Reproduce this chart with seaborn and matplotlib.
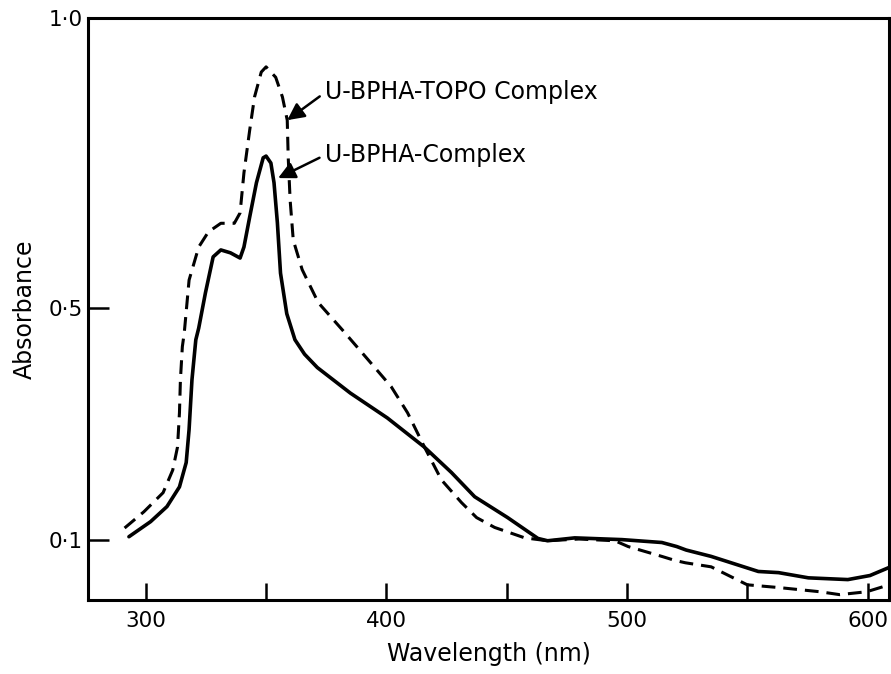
import matplotlib
matplotlib.use("Agg")
import matplotlib.pyplot as plt
import seaborn as sns
import pandas as pd

# ---- data ----
wl_complex = [293, 302, 308.8, 314, 316.8, 318, 319.2, 320.8, 322, 324.8, 328, 331.2,
              335.2, 339.2, 340.8, 343.2, 346, 348.8, 350, 352, 353.3, 354.7, 356,
              358.6, 362, 366, 371.3, 385, 400.4, 415.7, 427, 436.7, 450.4, 463, 467,
              478.3, 497.9, 514.5, 520.7, 524.6, 535, 554.6, 563, 575.4, 591.8, 601, 609]
abs_complex = [0.105, 0.131, 0.157, 0.191, 0.233, 0.29, 0.376, 0.445, 0.465, 0.526, 0.588, 0.600,
               0.595, 0.586, 0.605, 0.657, 0.716, 0.759, 0.762, 0.75, 0.716, 0.647, 0.56,
               0.49, 0.445, 0.42, 0.397, 0.353, 0.31, 0.26, 0.216, 0.174, 0.138, 0.102, 0.098,
               0.103, 0.1, 0.095, 0.088, 0.082, 0.071, 0.045, 0.043, 0.034, 0.031, 0.038, 0.052]

wl_topo = [291.2, 299.2, 307.2, 311.2, 313.2, 314, 314.4, 315.2, 316, 318, 322, 326, 331.2,
           336.8, 339.2, 340.8, 343.2, 345.2, 348, 350, 354, 356.8, 358.8, 359.2, 360,
           361.3, 365, 371.7, 381.7, 392.5, 402, 408.8, 415.8, 422.9, 431.2, 437.5, 445,
           457.5, 467, 480, 495, 500.5, 514.5, 520, 524.3, 535, 550, 563.7, 580.2, 588.4,
           599.6, 609]
abs_topo = [0.12, 0.148, 0.181, 0.22, 0.26, 0.319, 0.376, 0.433, 0.457, 0.548, 0.605, 0.631, 0.646,
            0.646, 0.664, 0.733, 0.807, 0.864, 0.907, 0.916, 0.898, 0.864, 0.824, 0.76, 0.686,
            0.617, 0.566, 0.509, 0.462, 0.41, 0.364, 0.319, 0.26, 0.203, 0.164, 0.138, 0.121,
            0.103, 0.098, 0.101, 0.098, 0.088, 0.071, 0.064, 0.06, 0.053, 0.022, 0.017, 0.010, 0.005,
            0.01, 0.022]

x_ticks = [300, 350, 400, 450, 500, 550, 600]
x_ticklabels = ["300", "", "400", "", "500", "", "600"]
y_ticks = [0.1, 0.5, 1.0]
y_ticklabels = ["0·1", "0·5", "1·0"]

label_topo = "U-BPHA-TOPO Complex"
label_complex = "U-BPHA-Complex"

# ---- plot ----
sns.set_style("ticks")
plt.rcParams["font.family"] = ["DejaVu Sans"]
plt.rcParams["text.color"] = "black"
plt.rcParams["axes.labelcolor"] = "black"
plt.rcParams["xtick.color"] = "black"
plt.rcParams["ytick.color"] = "black"
plt.rcParams["xtick.labelcolor"] = "black"
plt.rcParams["ytick.labelcolor"] = "black"

fig = plt.figure(figsize=(8.91, 6.74), dpi=100)
ax = fig.add_axes([0.0988, 0.110, 0.8992, 0.863])

df_c = pd.DataFrame({"wl": wl_complex, "A": abs_complex})
df_t = pd.DataFrame({"wl": wl_topo, "A": abs_topo})

sns.lineplot(data=df_t, x="wl", y="A", ax=ax, color="black", lw=2.2,
             linestyle=(0, (4.5, 2.6)), sort=False)
sns.lineplot(data=df_c, x="wl", y="A", ax=ax, color="black", lw=2.6, sort=False)

ax.set_xlim(276, 609)
ax.set_ylim(-0.004, 1.0)

ax.set_xticks(x_ticks)
ax.set_xticklabels(x_ticklabels)
ax.set_yticks(y_ticks)
ax.set_yticklabels(y_ticklabels)

ax.tick_params(axis="both", direction="in", width=1.8, labelsize=15.5,
               color="black", labelcolor="black")
ax.tick_params(axis="x", length=12, pad=8)
ax.tick_params(axis="y", length=15, pad=4)

for sp in ax.spines.values():
    sp.set_visible(True)
    sp.set_linewidth(2.2)
    sp.set_color("black")

ax.set_xlabel("Wavelength (nm)", fontsize=17, labelpad=8, color="black")
ax.set_ylabel("Absorbance", fontsize=17, labelpad=8, color="black")

arrow = dict(arrowstyle="-|>,head_length=0.6,head_width=0.3", color="black", lw=1.8,
             shrinkA=2, shrinkB=0, relpos=(0, 0.5))
ax.annotate(label_topo, xy=(358.8, 0.824), xytext=(374.6, 0.872), color="black",
            fontsize=17, ha="left", va="center", arrowprops=arrow)
ax.annotate(label_complex, xy=(355.0, 0.724), xytext=(374.6, 0.764), color="black",
            fontsize=17, ha="left", va="center", arrowprops=arrow)

fig.savefig("out.png", dpi=100)
